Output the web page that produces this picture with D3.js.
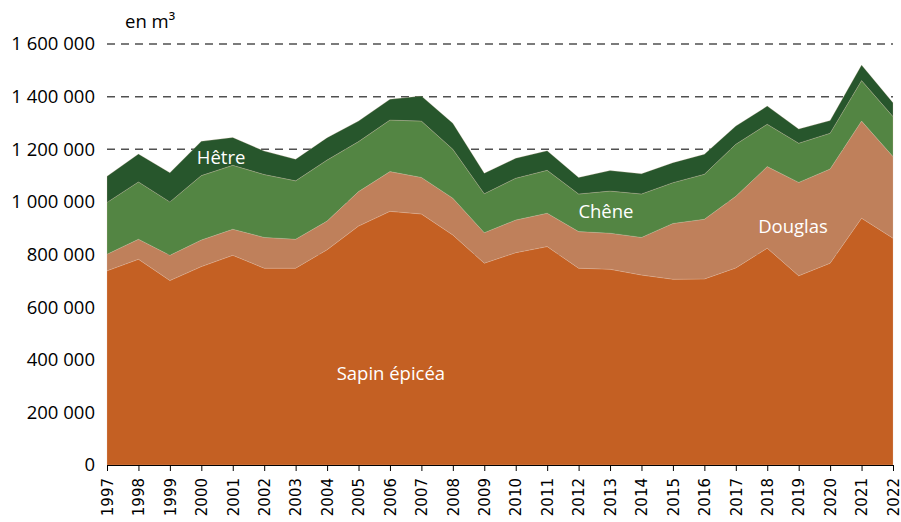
<!DOCTYPE html>
<html>
<head>
<meta charset="utf-8">
<script src="https://cdn.jsdelivr.net/npm/d3@7"></script>
<style>
  body { margin: 0; background: #fff; }
</style>
</head>
<body>
<div id="chart"></div>
<script>
// volumes récoltés par essence, en m³
var years = [1997, 1998, 1999, 2000, 2001, 2002, 2003, 2004, 2005, 2006, 2007, 2008, 2009,
  2010, 2011, 2012, 2013, 2014, 2015, 2016, 2017, 2018, 2019, 2020, 2021, 2022];
var sapin = [738000, 782000, 701000, 754000, 797000, 748000, 748000, 818000, 908000, 964000, 954000, 874000, 767000,
  807000, 830000, 748000, 744000, 722000, 706000, 707000, 749000, 824000, 719000, 767000, 938000, 862000];
var douglas = [63000, 76000, 96000, 101000, 99000, 117000, 110000, 109000, 131000, 151000, 139000, 140000, 116000,
  124000, 127000, 139000, 137000, 143000, 212000, 227000, 272000, 310000, 355000, 358000, 369000, 310000];
var chene = [197000, 218000, 203000, 245000, 243000, 239000, 222000, 232000, 190000, 196000, 214000, 186000, 148000,
  159000, 163000, 143000, 160000, 165000, 155000, 171000, 198000, 161000, 149000, 136000, 154000, 152000];
var hetre = [99000, 106000, 111000, 130000, 106000, 89000, 82000, 85000, 78000, 79000, 95000, 99000, 78000,
  76000, 74000, 63000, 78000, 77000, 76000, 76000, 69000, 69000, 54000, 48000, 59000, 53000];
var yTicks = [0, 200000, 400000, 600000, 800000, 1000000, 1200000, 1400000, 1600000];

var keys = ["sapin", "douglas", "chene", "hetre"];
var colors = { sapin: "#c46023", douglas: "#bf805b", chene: "#538543", hetre: "#27562c" };

var rows = years.map(function(y, i) {
  return { year: y, sapin: sapin[i], douglas: douglas[i], chene: chene[i], hetre: hetre[i] };
});

var width = 901, height = 522;
var margin = { top: 44, right: 8, bottom: 57, left: 107 };

var svg = d3.select("#chart").append("svg")
  .attr("width", width)
  .attr("height", height);

var x = d3.scaleLinear()
  .domain([1997, 2022])
  .range([margin.left, width - margin.right]);

var y = d3.scaleLinear()
  .domain([0, 1600000])
  .range([height - margin.bottom, margin.top]);

var fmt = function(v) {
  return d3.format(",")(v).replace(/,/g, " ");
};

// grille pointillée
svg.append("g")
  .selectAll("line")
  .data(yTicks.slice(1))
  .enter().append("line")
  .attr("x1", x(1997))
  .attr("x2", x(2022))
  .attr("y1", function(d) { return y(d); })
  .attr("y2", function(d) { return y(d); })
  .style("stroke", "#505050")
  .style("stroke-width", 1.5)
  .style("stroke-dasharray", "8,6");

var stack = d3.stack().keys(keys);
var series = stack(rows);

var area = d3.area()
  .x(function(d) { return x(d.data.year); })
  .y0(function(d) { return y(d[0]); })
  .y1(function(d) { return y(d[1]); });

svg.append("g")
  .selectAll("path")
  .data(series)
  .enter().append("path")
  .attr("d", area)
  .style("fill", function(d) { return colors[d.key]; })
  .style("stroke", "#e9c9b3")
  .style("stroke-width", 0.4)
  .style("stroke-opacity", 0.6);

// axe des ordonnées (libellés seulement)
var yAxis = svg.append("g")
  .attr("transform", "translate(" + (margin.left - 12) + ",0)")
  .call(d3.axisLeft(y).tickValues(yTicks).tickFormat(fmt).tickSize(0).tickPadding(0));
yAxis.select(".domain").remove();
yAxis.selectAll("text")
  .style("font-family", "'Open Sans', sans-serif")
  .style("font-size", "18.5px")
  .style("fill", "#000");

// axe des abscisses
var xAxis = svg.append("g")
  .attr("transform", "translate(0," + y(0) + ")")
  .call(d3.axisBottom(x).tickValues(years).tickFormat(d3.format("d")).tickSize(6).tickSizeOuter(0));
xAxis.select(".domain").style("stroke", "#000");
xAxis.selectAll(".tick line").style("stroke", "#000");
xAxis.selectAll("text")
  .attr("transform", "rotate(-90)")
  .attr("x", -13)
  .attr("y", 0)
  .attr("dy", "0.35em")
  .style("text-anchor", "end")
  .style("font-family", "'DejaVu Sans', sans-serif")
  .style("font-size", "15px")
  .style("fill", "#000");

// unité
svg.append("text")
  .attr("x", 125)
  .attr("y", 28)
  .text("en m³")
  .style("font-family", "'Open Sans', sans-serif")
  .style("font-size", "18.5px")
  .style("fill", "#000");

// étiquettes des séries
var labels = [
  { text: "Hêtre", year: 2000.63, value: 1170000 },
  { text: "Chêne", year: 2012.87, value: 965000 },
  { text: "Douglas", year: 2018.82, value: 908000 },
  { text: "Sapin épicéa", year: 2006.03, value: 346000 }
];
svg.append("g")
  .selectAll("text")
  .data(labels)
  .enter().append("text")
  .attr("x", function(d) { return x(d.year); })
  .attr("y", function(d) { return y(d.value); })
  .attr("dy", "0.35em")
  .attr("text-anchor", "middle")
  .text(function(d) { return d.text; })
  .style("font-family", "'Open Sans', sans-serif")
  .style("font-size", "18.5px")
  .style("fill", "#fff");
</script>
</body>
</html>
